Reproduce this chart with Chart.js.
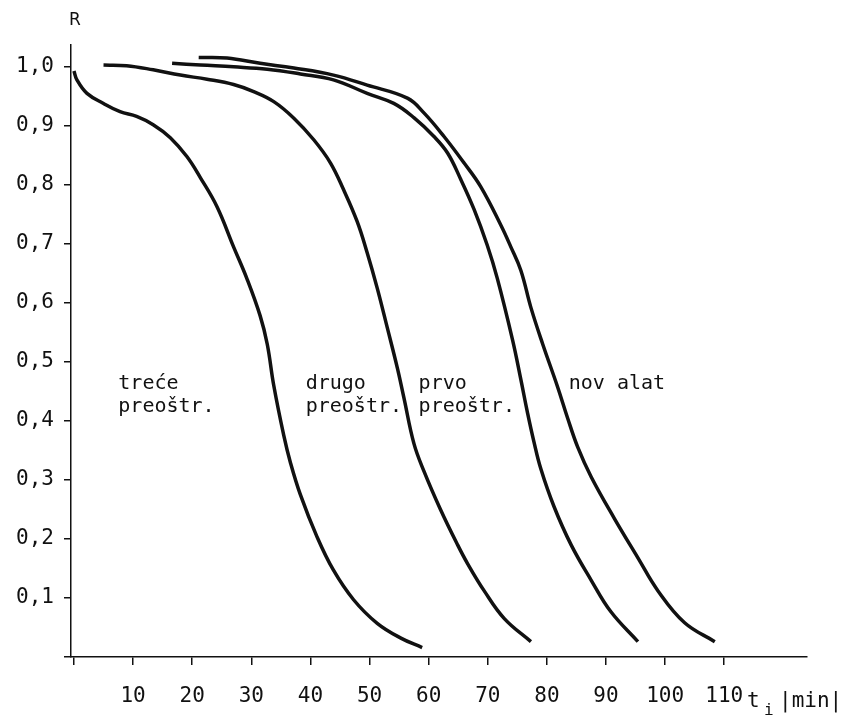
<!DOCTYPE html>
<html>
<head>
<meta charset="utf-8">
<script src="https://cdn.jsdelivr.net/npm/chart.js@4/dist/chart.umd.min.js"></script>
<style>
html,body{margin:0;padding:0;background:#fff;}
#wrap{width:848px;height:725px;}
</style>
</head>
<body>
<div id="wrap"><canvas id="chart" width="848" height="725"></canvas></div>
<script>
// R(t) curves (t in min)
const treceT = [0, 0.5, 2.2, 5, 7.8, 10.6, 13.4, 16.3, 19.1, 21.4, 24.2, 27, 29.3, 31.5, 32.7, 33.8, 35.5, 36.6, 38.3, 41.1, 43.9, 47.3, 51.3, 55.3, 58.9];
const treceR = [0.993, 0.978, 0.955, 0.938, 0.924, 0.916, 0.902, 0.880, 0.848, 0.812, 0.763, 0.695, 0.640, 0.578, 0.530, 0.460, 0.375, 0.330, 0.275, 0.204, 0.147, 0.097, 0.057, 0.032, 0.016];

const drugoT = [5, 8.9, 13.4, 18, 22.5, 27, 30.4, 33.8, 37.2, 40.6, 43.4, 45.6, 47.9, 49.6, 51.3, 53, 54.7, 55.8, 57.5, 59.2, 62, 64.9, 66.6, 69.4, 72.8, 77.3];
const drugoR = [1.003, 1.002, 0.995, 0.986, 0.979, 0.970, 0.958, 0.941, 0.913, 0.876, 0.837, 0.792, 0.738, 0.685, 0.625, 0.558, 0.490, 0.440, 0.362, 0.315, 0.250, 0.190, 0.158, 0.112, 0.065, 0.026];

const prvoT = [16.6, 21.4, 27, 32.7, 38.3, 43.9, 49.6, 54.1, 57.5, 60.9, 63.2, 65.4, 67.7, 69.9, 71.6, 74.2, 75.6, 76.7, 77.8, 79, 81.2, 84.1, 87.5, 90.8, 95.4];
const prvoR = [1.006, 1.003, 1.000, 0.996, 0.988, 0.978, 0.955, 0.938, 0.914, 0.882, 0.854, 0.810, 0.758, 0.698, 0.642, 0.537, 0.470, 0.415, 0.365, 0.318, 0.255, 0.190, 0.130, 0.077, 0.026];

const novT = [21.1, 25.9, 31.5, 37.2, 43.9, 49.6, 56.4, 59.2, 62.6, 66, 68.8, 72.2, 73.9, 75.6, 77.3, 79.3, 81.8, 83.5, 85.2, 87.5, 91.4, 95.4, 98.8, 103.3, 108.4];
const novR = [1.016, 1.015, 1.006, 0.998, 0.986, 0.969, 0.947, 0.922, 0.882, 0.837, 0.797, 0.732, 0.695, 0.655, 0.592, 0.530, 0.458, 0.405, 0.356, 0.305, 0.235, 0.168, 0.112, 0.058, 0.026];

const xTicks = [0, 10, 20, 30, 40, 50, 60, 70, 80, 90, 100, 110];
const yTicks = [0, 0.1, 0.2, 0.3, 0.4, 0.5, 0.6, 0.7, 0.8, 0.9, 1.0];

const curveLabels = [["treće", "preoštr."], ["drugo", "preoštr."], ["prvo", "preoštr."], ["nov alat"]];
const curveLabelT = [7.5, 39.2, 58.3, 83.7];
const curveLabelR = [0.454, 0.454, 0.454, 0.454];

const INK = "#111";
const MONO = "'DejaVu Sans Mono', monospace";

function pts(ts, rs){
  return ts.map((t, i) => ({x: t, y: rs[i]}));
}

function curve(ts, rs){
  return {
    data: pts(ts, rs),
    showLine: true,
    borderColor: INK,
    borderWidth: 3.5,
    pointRadius: 0,
    tension: 0.4,
    fill: false
  };
}

const textPlugin = {
  id: "texts",
  afterDraw(chart){
    const ctx = chart.ctx;
    const xs = chart.scales.x, ys = chart.scales.y;
    ctx.save();
    ctx.fillStyle = INK;
    ctx.textBaseline = "alphabetic";
    ctx.textAlign = "left";
    ctx.font = "20px " + MONO;
    curveLabels.forEach((lines, i) => {
      const px = xs.getPixelForValue(curveLabelT[i]);
      const py = ys.getPixelForValue(curveLabelR[i]);
      lines.forEach((s, j) => ctx.fillText(s, px, py + j * 23));
    });
    // axis names
    ctx.font = "17px 'DejaVu Sans', sans-serif";
    ctx.fillText("R", 69, 25);
    ctx.font = "21px " + MONO;
    ctx.fillText("t", 747, 707);
    ctx.font = "16px " + MONO;
    ctx.fillText("i", 764, 715);
    ctx.font = "21px " + MONO;
    ctx.fillText("|min|", 779, 707);
    ctx.restore();
  }
};

new Chart(document.getElementById("chart"), {
  type: "scatter",
  data: {
    datasets: [curve(treceT, treceR), curve(drugoT, drugoR), curve(prvoT, prvoR), curve(novT, novR)]
  },
  options: {
    responsive: false,
    animation: false,
    layout: {padding: {top: 45, right: 41, left: 0, bottom: 0}},
    plugins: {legend: {display: false}, tooltip: {enabled: false}},
    scales: {
      x: {
        type: "linear",
        min: -0.5,
        max: 124,
        afterBuildTicks: s => { s.ticks = xTicks.map(v => ({value: v})); },
        afterFit: s => { s.height = 68; },
        border: {display: true, color: INK, width: 1.5},
        grid: {drawOnChartArea: false, drawTicks: true, tickLength: 8, color: INK, lineWidth: 1.5},
        ticks: {
          color: INK,
          font: {family: MONO, size: 21},
          padding: 19,
          maxRotation: 0,
          autoSkip: false,
          callback: v => v === 0 ? "" : String(v)
        }
      },
      y: {
        type: "linear",
        min: 0,
        max: 1.037,
        afterBuildTicks: s => { s.ticks = yTicks.map(v => ({value: v})); },
        afterFit: s => { s.width = 71; },
        border: {display: true, color: INK, width: 1.5},
        grid: {drawOnChartArea: false, drawTicks: true, tickLength: 7, color: INK, lineWidth: 1.5},
        ticks: {
          color: INK,
          font: {family: MONO, size: 21},
          padding: 10,
          autoSkip: false,
          callback: v => v === 0 ? "" : v.toFixed(1).replace(".", ",")
        }
      }
    }
  },
  plugins: [textPlugin]
});
</script>
</body>
</html>
